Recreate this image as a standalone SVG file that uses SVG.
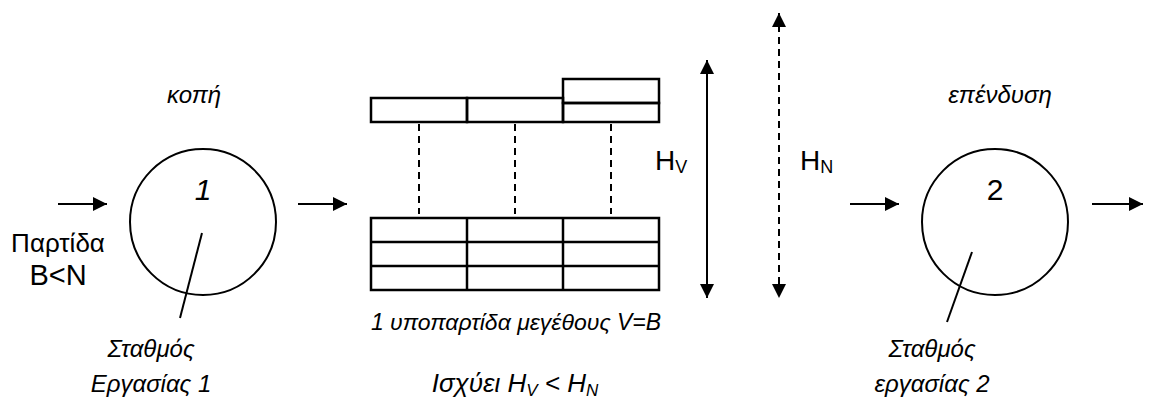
<svg xmlns="http://www.w3.org/2000/svg" width="1162" height="403" viewBox="0 0 1162 403">
<style>
.t{font-family:"Liberation Sans",Arial,sans-serif;fill:#000}
.i{font-style:italic}
.c{fill:none;stroke:#000;stroke-width:2}
.r{fill:none;stroke:#000;stroke-width:2.5}
.a{fill:none;stroke:#000;stroke-width:2}
.d{fill:none;stroke:#000;stroke-width:2;stroke-dasharray:7,5}
</style>
<defs>
<marker id="ah" viewBox="0 0 10 10" refX="10" refY="5" markerWidth="15" markerHeight="14" markerUnits="userSpaceOnUse" orient="auto-start-reverse">
<path d="M0,0 L10,5 L0,10 Z" fill="#000"/>
</marker>
</defs>
<rect width="1162" height="403" fill="#fff"/>
<g id="station1">
<circle class="c" cx="203" cy="222" r="73"/>
<text class="t i" x="203" y="200" font-size="30" text-anchor="middle">1</text>
<text class="t i" x="194" y="103" font-size="24" text-anchor="middle">κοπή</text>
<line class="a" x1="202" y1="233" x2="180" y2="318"/>
<text class="t i" x="151" y="357" font-size="24" text-anchor="middle">Σταθμός</text>
<text class="t i" x="151" y="392" font-size="24" text-anchor="middle">Εργασίας 1</text>
</g>
<g id="batch">
<text class="t" x="58" y="252" font-size="26" text-anchor="middle">Παρτίδα</text>
<text class="t" x="58" y="285" font-size="29" text-anchor="middle">B&lt;N</text>
</g>
<g id="top-row">
<rect class="r" x="371" y="98" width="96" height="24"/>
<rect class="r" x="467" y="98" width="96" height="24"/>
<rect class="r" x="563" y="79" width="96" height="24"/>
<rect class="r" x="563" y="103" width="96" height="19"/>
</g>
<g id="bottom-grid">
<rect class="r" x="371" y="218" width="288" height="72"/>
<line class="r" x1="371" y1="242" x2="659" y2="242"/>
<line class="r" x1="371" y1="266" x2="659" y2="266"/>
<line class="r" x1="467" y1="218" x2="467" y2="290"/>
<line class="r" x1="563" y1="218" x2="563" y2="290"/>
<text class="t i" x="516" y="330" font-size="23" text-anchor="middle">1 υποπαρτίδα μεγέθους V=B</text>
<text class="t i" x="515" y="392" font-size="26" text-anchor="middle">Ισχύει H<tspan font-size="17" dy="4">V</tspan><tspan dy="-4"> &lt; H</tspan><tspan font-size="17" dy="4">N</tspan></text>
</g>
<g id="heights">
<text class="t" x="655" y="170" font-size="28">H<tspan font-size="18" dy="3">V</tspan></text>
<text class="t" x="800" y="170" font-size="28">H<tspan font-size="18" dy="3">N</tspan></text>
</g>
<g id="station2">
<circle class="c" cx="995" cy="222" r="73"/>
<text class="t" x="995" y="200" font-size="30" text-anchor="middle">2</text>
<text class="t i" x="1000" y="103" font-size="24" text-anchor="middle">επένδυση</text>
<line class="a" x1="972" y1="252" x2="947" y2="322"/>
<text class="t i" x="932" y="357" font-size="24" text-anchor="middle">Σταθμός</text>
<text class="t i" x="932" y="392" font-size="24" text-anchor="middle">εργασίας 2</text>
</g>
<g id="connectors">
<line class="a" x1="58" y1="204" x2="107" y2="204" marker-end="url(#ah)"/>
<line class="a" x1="298" y1="204" x2="347" y2="204" marker-end="url(#ah)"/>
<line class="a" x1="850" y1="204" x2="899" y2="204" marker-end="url(#ah)"/>
<line class="a" x1="1092" y1="204" x2="1143" y2="204" marker-end="url(#ah)"/>
<line class="a" x1="707" y1="60" x2="707" y2="298" marker-start="url(#ah)" marker-end="url(#ah)"/>
<line class="d" x1="779" y1="13" x2="779" y2="298" marker-start="url(#ah)" marker-end="url(#ah)"/>
<line class="d" x1="419" y1="124" x2="419" y2="214"/>
<line class="d" x1="515" y1="124" x2="515" y2="214"/>
<line class="d" x1="611" y1="124" x2="611" y2="214"/>
</g>
</svg>
